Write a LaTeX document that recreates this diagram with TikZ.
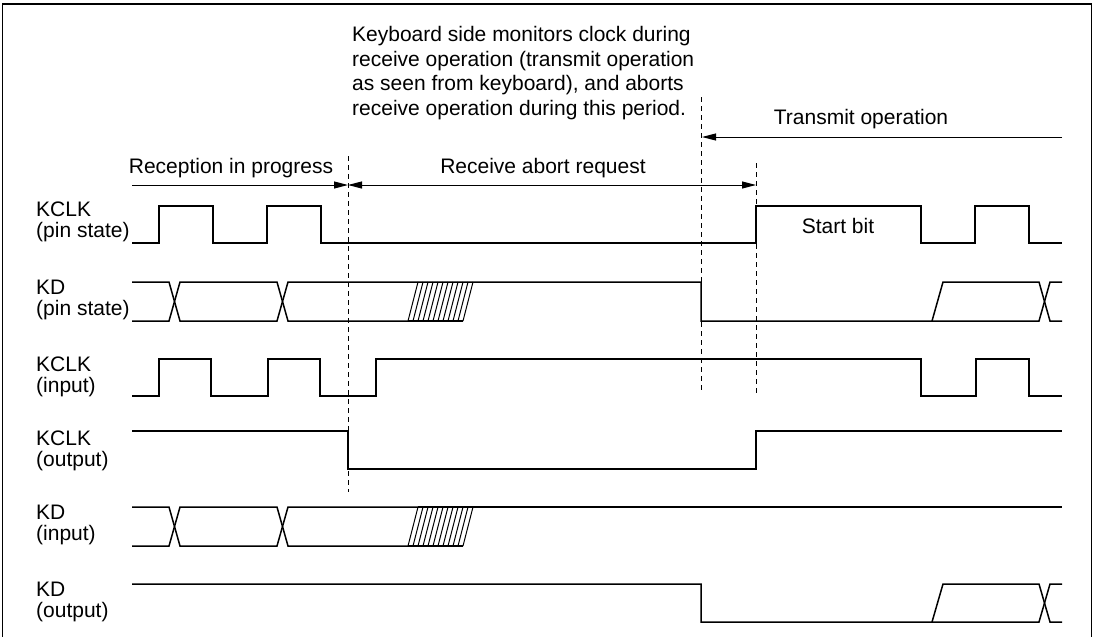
\documentclass[tikz,border=0pt]{standalone}
\usepackage{fontspec}
\setmainfont{Liberation Sans}
\usetikzlibrary{arrows.meta}

\tikzset{
  sig/.style={line width=1.5pt,line join=miter},
  guide/.style={line width=0.9pt,dash pattern=on 5pt off 4pt},
  span/.style={line width=1pt},
  tip/.tip={Triangle[length=14pt,width=7pt]},
  siglabel/.style={anchor=north west,align=left,inner sep=0pt,
    font=\fontsize{21}{21}\selectfont},
  note/.style={inner sep=0pt,font=\fontsize{21}{24.5}\selectfont},
}

\begin{document}
\begin{tikzpicture}[x=1pt,y=-1pt]
  \useasboundingbox (0,0) rectangle (1095,637);
  \draw[line width=1.3pt] (2.5,645) -- (2.5,4) -- (1091.5,4) -- (1091.5,645);

  % signal names
  \node[siglabel] (kclkpin) at (36,202) {KCLK\\(pin state)};
  \node[siglabel] (kdpin)   at (36,280) {KD\\(pin state)};
  \node[siglabel] (kclkin)  at (36,357) {KCLK\\(input)};
  \node[siglabel] (kclkout) at (36,431) {KCLK\\(output)};
  \node[siglabel] (kdin)    at (36,505) {KD\\(input)};
  \node[siglabel] (kdout)   at (36,582) {KD\\(output)};

  % annotations
  \node[note,anchor=north west,align=left] (monitor) at (352,26.5)
    {Keyboard side monitors clock during\\receive operation (transmit operation\\as seen from keyboard), and aborts\\receive operation during this period.};
  \node[note] (reception) at (231,168) {Reception in progress};
  \node[note] (abort) at (543,168) {Receive abort request};
  \node[note] (transmit) at (861,119) {Transmit operation};
  \node[note] (startbit) at (838,226) {Start bit};

  \coordinate (recvbegin) at (132,185);
  \coordinate (abortbegin) at (348,185);
  \coordinate (abortend) at (756,185);
  \coordinate (txbegin) at (702,137);
  \coordinate (txend) at (1062,137);

  \draw[span,-tip] (recvbegin) -- (abortbegin);
  \draw[span,tip-tip] (abortbegin) -- (abortend);
  \draw[span,-tip] (txend) -- (txbegin);

  % guide lines
  \draw[guide] (348,156) -- (348,492);
  \draw[guide] (701.5,97) -- (701.5,393);
  \draw[guide] (756,163) -- (756,393);

  % KCLK (pin state)
  \draw[sig] (132,243) -- (159,243) -- (159,206) -- (213,206) -- (213,243)
    -- (267,243) -- (267,206) -- (321,206) -- (321,243) -- (756,243)
    -- (756,206) -- (921,206) -- (921,243) -- (975,243) -- (975,206)
    -- (1029,206) -- (1029,243) -- (1062,243);

  % KD rows share the receive part
  \foreach \hi/\lo in {282/321,507/546}{
    \draw[sig] (132,\hi) -- (169,\hi) -- (180,\lo) -- (277,\lo) -- (288,\hi) -- (418,\hi);
    \draw[sig] (132,\lo) -- (169,\lo) -- (180,\hi) -- (277,\hi) -- (288,\lo) -- (408,\lo);
    \draw[sig] (408,\lo) -- (463,\lo);
    \foreach \i in {0,...,11}
      \draw[line width=1pt] (408+5*\i,\lo) -- (418+5*\i,\hi);
  }

  % KD (pin state)
  \draw[sig] (418,282) -- (701,282) -- (701,321) -- (1039,321) -- (1050,282) -- (1062,282);
  \draw[sig] (932,321) -- (943,282) -- (1039,282) -- (1050,321) -- (1062,321);

  % KCLK (input)
  \draw[sig] (132,396) -- (159,396) -- (159,359) -- (211,359) -- (211,396)
    -- (268,396) -- (268,359) -- (320,359) -- (320,396) -- (376,396)
    -- (376,359) -- (921,359) -- (921,396) -- (976,396) -- (976,359)
    -- (1029,359) -- (1029,396) -- (1062,396);

  % KCLK (output)
  \draw[sig] (132,431) -- (348,431) -- (348,469) -- (756,469) -- (756,431) -- (1062,431);

  % KD (input)
  \draw[sig] (418,507) -- (1062,507);

  % KD (output)
  \draw[sig] (132,584) -- (701,584) -- (701,622) -- (1039,622) -- (1050,584) -- (1062,584);
  \draw[sig] (932,622) -- (943,584) -- (1039,584) -- (1050,622) -- (1062,622);
\end{tikzpicture}
\end{document}
